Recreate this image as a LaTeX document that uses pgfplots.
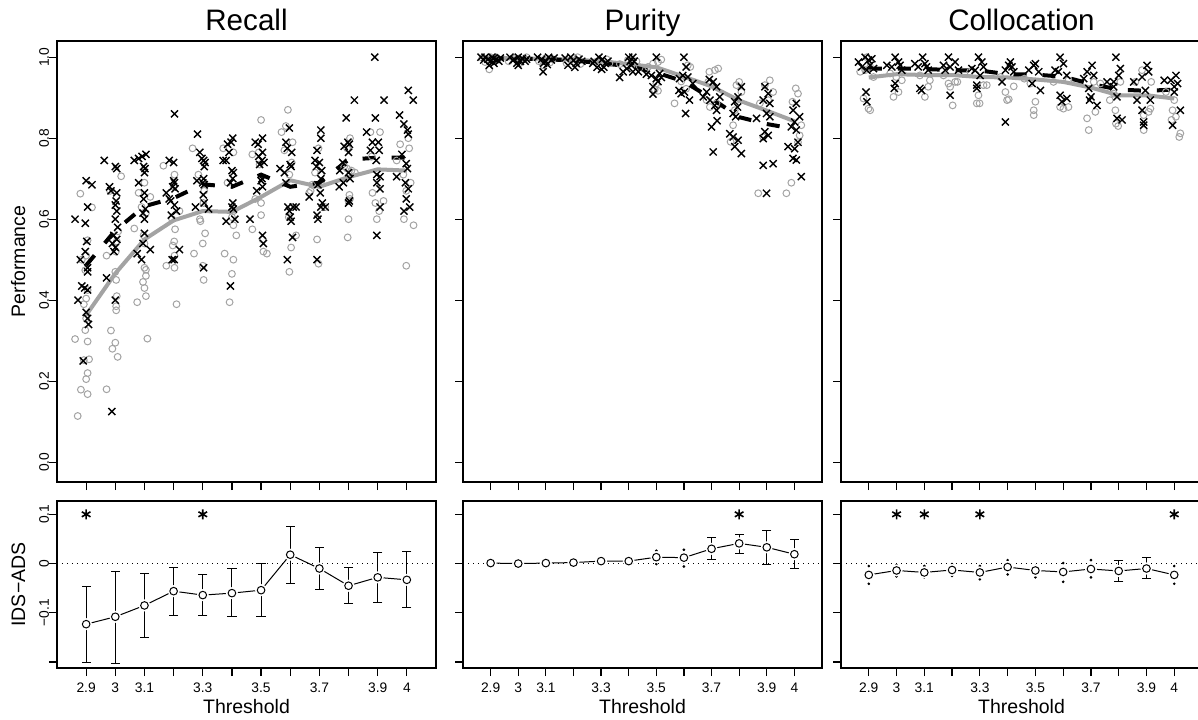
\documentclass[border=0pt]{standalone}
\usepackage{fontspec}
\setmainfont{Liberation Sans}
\usepackage{pgfplots}
\pgfplotsset{compat=1.18}
\definecolor{idsgray}{gray}{0.64}

\pgfplotsset{
  panel/.style={scale only axis, xmin=2.8, xmax=4.1,
    axis line style={line width=0.6pt},
    tick style={black, line width=0.6pt},
    tick align=outside, major tick length=4pt,
    xtick pos=left, ytick pos=left,
    xtick={2.9,3.0,3.1,3.2,3.3,3.4,3.5,3.6,3.7,3.8,3.9,4.0},
    ticklabel style={font=\fontsize{6.9}{8}\selectfont},
    yticklabel style={rotate=90, anchor=base},
  },
  top/.style={panel, height=220.5pt, ymin=-0.049, ymax=1.04,
    ytick={0,0.2,0.4,0.6,0.8,1}, xticklabels={}},
  bot/.style={panel, height=83.5pt, ymin=-0.212, ymax=0.127,
    ytick={-0.2,-0.1,0,0.1},
    xticklabels={2.9,3,3.1,,3.3,,3.5,,3.7,,3.9,4}},
  ids/.style={only marks, mark=o, mark size=1.7pt, idsgray, mark options={line width=0.5pt}},
  ads/.style={only marks, mark=x, mark size=2.5pt, black, mark options={line width=0.7pt}},
  idsline/.style={idsgray, line width=2pt, mark=none},
  adsline/.style={black, line width=2pt, mark=none, dash pattern=on 6.5pt off 8pt},
  zero/.style={black, line width=0.5pt, mark=none, dash pattern=on 0.5pt off 2pt},
  bars/.style={draw=none, mark=none, forget plot,
    error bars/.cd, y dir=both, y explicit, error mark=none,
    error bar style={draw=black, line width=0.5pt, solid}},
  caps/.style={only marks, mark=-, mark size=2.3pt, black, forget plot,
    mark options={line width=0.5pt}},
  enddots/.style={only marks, mark=*, mark size=0.45pt, black, forget plot},
  gap/.style={only marks, mark=*, mark size=2.8pt, white, forget plot},
  diffline/.style={black, line width=0.5pt, mark=o, mark size=1.9pt,
    mark options={fill=white, solid, line width=0.5pt}},
  star/.style={only marks, mark=asterisk, mark size=2.5pt, black, mark options={line width=0.8pt}},
}

\begin{document}
\begin{tikzpicture}
\useasboundingbox (0,0) rectangle (599pt,359.5pt);

% ---------- Recall ----------
\begin{axis}[top, width=189.5pt, at={(28.5pt,118.5pt)}, anchor=south west,
  yticklabels={0.0,0.2,0.4,0.6,0.8,1.0}]
\addplot[ids] coordinates {
 (2.88,0.663) (2.92,0.629) (2.862,0.304) (2.871,0.114) (2.882,0.179) (2.905,0.168) (2.9,0.205)
 (2.905,0.22) (2.91,0.254) (2.892,0.252) (2.905,0.298) (2.897,0.326) (2.9,0.355) (2.892,0.39)
 (2.9,0.404) (2.905,0.425) (2.897,0.474) (2.905,0.548) (2.9,0.51) (2.885,0.50)
 (3.02,0.706) (2.982,0.67) (2.97,0.51) (3.0,0.47) (3.003,0.45) (3.005,0.41) (3.003,0.385)
 (3.003,0.375) (2.985,0.325) (3.0,0.295) (2.99,0.28) (3.008,0.26) (2.97,0.18) (3.005,0.545)
 (3.002,0.52) (3.01,0.57)
 (3.1,0.69) (3.08,0.665) (3.12,0.655) (3.065,0.577) (3.097,0.56) (3.1,0.54) (3.1,0.48)
 (3.105,0.475) (3.105,0.46) (3.095,0.445) (3.1,0.43) (3.105,0.41) (3.075,0.395) (3.11,0.305)
 (3.09,0.63) (3.105,0.615)
 (3.165,0.732) (3.203,0.71) (3.195,0.60) (3.205,0.575) (3.202,0.545) (3.197,0.535) (3.203,0.51)
 (3.175,0.485) (3.203,0.48) (3.21,0.39) (3.22,0.62) (3.2,0.68)
 (3.265,0.775) (3.285,0.71) (3.305,0.67) (3.302,0.64) (3.29,0.60) (3.292,0.595) (3.308,0.565)
 (3.3,0.54) (3.27,0.515) (3.3,0.485) (3.303,0.45)
 (3.37,0.775) (3.405,0.765) (3.385,0.69) (3.405,0.62) (3.4,0.605) (3.405,0.585) (3.415,0.56)
 (3.375,0.515) (3.405,0.50) (3.4,0.465) (3.392,0.395)
 (3.5,0.845) (3.492,0.765) (3.47,0.76) (3.495,0.735) (3.48,0.65) (3.5,0.64) (3.5,0.61)
 (3.47,0.575) (3.505,0.55) (3.508,0.52) (3.52,0.515)
 (3.592,0.87) (3.585,0.83) (3.57,0.815) (3.608,0.79) (3.58,0.77) (3.605,0.74) (3.597,0.71)
 (3.595,0.605) (3.62,0.56) (3.603,0.53) (3.597,0.47)
 (3.697,0.775) (3.685,0.715) (3.705,0.71) (3.675,0.685) (3.665,0.665) (3.67,0.67) (3.692,0.55)
 (3.697,0.49) (3.72,0.63)
 (3.805,0.80) (3.795,0.775) (3.785,0.73) (3.795,0.725) (3.81,0.72) (3.803,0.66) (3.805,0.65)
 (3.8,0.645) (3.8,0.60) (3.797,0.555) (3.822,0.715)
 (3.875,0.815) (3.908,0.815) (3.88,0.755) (3.882,0.665) (3.892,0.64) (3.92,0.645) (3.905,0.62)
 (3.897,0.60)
 (4.005,0.80) (3.977,0.785) (4.008,0.775) (3.965,0.745) (3.988,0.71) (4.013,0.69) (3.998,0.67)
 (3.99,0.60) (4.023,0.585) (3.998,0.485)
};
\addplot[ads] coordinates {
 (2.862,0.60) (2.9,0.695) (2.92,0.685) (2.905,0.63) (2.897,0.59) (2.902,0.545) (2.897,0.52)
 (2.88,0.50) (2.905,0.48) (2.905,0.47) (2.885,0.435) (2.905,0.425) (2.895,0.43) (2.872,0.40)
 (2.9,0.37) (2.905,0.355) (2.908,0.34) (2.89,0.25)
 (2.962,0.745) (3.0,0.73) (3.005,0.725) (2.98,0.68) (2.985,0.67) (3.005,0.665) (3.003,0.645)
 (3.0,0.635) (3.005,0.62) (3.0,0.60) (3.008,0.58) (2.995,0.56) (3.005,0.55) (2.99,0.54)
 (3.0,0.53) (2.995,0.52) (2.97,0.455) (3.0,0.40) (2.988,0.125)
 (3.065,0.745) (3.08,0.75) (3.092,0.755) (3.105,0.76) (3.097,0.73) (3.102,0.725) (3.1,0.715)
 (3.08,0.69) (3.1,0.665) (3.097,0.65) (3.103,0.625) (3.095,0.615) (3.1,0.60) (3.1,0.565)
 (3.095,0.54) (3.075,0.515) (3.09,0.50) (3.12,0.525)
 (3.203,0.86) (3.185,0.745) (3.2,0.74) (3.2,0.695) (3.203,0.69) (3.197,0.68) (3.205,0.675)
 (3.175,0.665) (3.185,0.65) (3.19,0.645) (3.203,0.635) (3.192,0.61) (3.195,0.50) (3.202,0.50)
 (3.22,0.525) (3.21,0.62)
 (3.282,0.81) (3.29,0.765) (3.297,0.75) (3.303,0.745) (3.308,0.74) (3.305,0.73) (3.303,0.70)
 (3.28,0.695) (3.3,0.69) (3.305,0.685) (3.302,0.66) (3.305,0.64) (3.275,0.63) (3.32,0.625)
 (3.303,0.48)
 (3.403,0.80) (3.397,0.79) (3.385,0.785) (3.39,0.765) (3.37,0.745) (3.38,0.745) (3.4,0.72)
 (3.405,0.715) (3.403,0.70) (3.395,0.69) (3.403,0.64) (3.4,0.63) (3.405,0.625) (3.41,0.60)
 (3.38,0.595) (3.395,0.435)
 (3.505,0.80) (3.48,0.79) (3.49,0.785) (3.505,0.765) (3.492,0.755) (3.503,0.745) (3.51,0.74)
 (3.495,0.735) (3.503,0.70) (3.5,0.695) (3.505,0.68) (3.485,0.67) (3.462,0.60) (3.505,0.56)
 (3.508,0.54)
 (3.597,0.825) (3.585,0.79) (3.59,0.775) (3.605,0.765) (3.6,0.735) (3.603,0.73) (3.565,0.725)
 (3.58,0.715) (3.585,0.69) (3.592,0.63) (3.61,0.63) (3.62,0.63) (3.597,0.62) (3.6,0.605)
 (3.603,0.595) (3.608,0.555) (3.59,0.50)
 (3.705,0.82) (3.705,0.80) (3.692,0.77) (3.685,0.745) (3.7,0.74) (3.69,0.73) (3.708,0.72)
 (3.705,0.70) (3.695,0.685) (3.703,0.665) (3.71,0.64) (3.705,0.63) (3.72,0.63) (3.692,0.61)
 (3.695,0.60) (3.665,0.655) (3.692,0.50)
 (3.792,0.85) (3.82,0.894) (3.798,0.79) (3.803,0.785) (3.785,0.78) (3.8,0.765) (3.78,0.74)
 (3.77,0.72) (3.8,0.715) (3.782,0.69) (3.768,0.68) (3.803,0.645) (3.8,0.64) (3.805,0.70)
 (3.89,1.0) (3.922,0.894) (3.892,0.85) (3.862,0.815) (3.882,0.79) (3.875,0.77) (3.902,0.79)
 (3.905,0.77) (3.895,0.745) (3.897,0.71) (3.908,0.705) (3.897,0.69) (3.908,0.675) (3.908,0.63)
 (3.897,0.56)
 (4.005,0.918) (4.022,0.894) (3.975,0.857) (3.99,0.835) (4.002,0.82) (4.005,0.81) (3.983,0.76)
 (3.998,0.737) (4.002,0.725) (3.965,0.705) (3.995,0.69) (4.005,0.675) (3.998,0.65) (3.99,0.62)
 (4.01,0.63)
};
\addplot[idsline] coordinates {(2.9,0.363) (3.0,0.466) (3.1,0.55) (3.2,0.597) (3.3,0.62) (3.4,0.618)
 (3.5,0.655) (3.6,0.696) (3.7,0.68) (3.8,0.704) (3.9,0.723) (4.0,0.72)};
\addplot[adsline] coordinates {(2.9,0.486) (3.0,0.572) (3.1,0.632) (3.2,0.652) (3.3,0.686) (3.4,0.68)
 (3.5,0.71) (3.6,0.68) (3.7,0.69) (3.8,0.747) (3.9,0.752) (4.0,0.752)};
\end{axis}

% ---------- Purity ----------
\begin{axis}[top, width=179.5pt, at={(231.5pt,118.5pt)}, anchor=south west, yticklabels={}]
\addplot[ids] coordinates {
 (2.87,0.998) (2.885,0.995) (2.9,1.0) (2.91,0.99) (2.92,1.0) (2.895,0.97) (2.925,0.993) (2.88,0.988)
 (2.965,0.99) (2.99,0.998) (3.005,0.985) (3.02,0.995) (3.03,1.0)
 (3.075,0.99) (3.1,0.998) (3.115,0.987) (3.125,0.995) (3.09,0.98)
 (3.175,0.985) (3.2,0.99) (3.215,1.0) (3.225,0.983) (3.19,0.993)
 (3.28,0.988) (3.3,0.99) (3.32,0.995) (3.33,0.985)
 (3.368,0.983) (3.397,0.993) (3.428,0.99) (3.44,0.975) (3.41,0.985)
 (3.47,0.976) (3.488,0.984) (3.506,0.988) (3.518,0.994) (3.494,0.92) (3.506,0.917) (3.5,0.935)
 (3.614,0.98) (3.623,0.976) (3.566,0.886) (3.608,0.922) (3.59,0.94)
 (3.692,0.964) (3.712,0.968) (3.724,0.972) (3.688,0.939) (3.682,0.894) (3.694,0.877) (3.718,0.886)
 (3.8,0.939) (3.79,0.931) (3.808,0.914) (3.784,0.869) (3.778,0.832) (3.769,0.791) (3.79,0.894)
 (3.911,0.943) (3.893,0.931) (3.923,0.914) (3.905,0.894) (3.875,0.886) (3.887,0.803) (3.869,0.664)
 (4.005,0.923) (4.013,0.91) (3.993,0.89) (4.025,0.832) (4.019,0.807) (4.013,0.79) (3.989,0.69) (3.971,0.664)
};
\addplot[ads] coordinates {
 (2.865,1.0) (2.88,1.0) (2.89,0.995) (2.9,0.99) (2.905,1.0) (2.912,0.985) (2.92,0.995) (2.93,0.99)
 (2.895,0.98) (2.91,0.997) (2.935,0.998) (2.875,0.993)
 (2.97,1.0) (2.985,0.995) (3.0,1.0) (3.008,0.99) (3.015,0.997) (3.025,0.99) (2.995,0.985) (3.03,0.995)
 (2.98,0.992) (3.0,0.98)
 (3.07,1.0) (3.085,0.995) (3.1,0.99) (3.11,1.0) (3.12,0.993) (3.092,0.985) (3.13,0.998) (3.09,0.964) (3.105,0.982)
 (3.17,0.998) (3.19,1.0) (3.2,0.992) (3.21,0.985) (3.22,0.995) (3.18,0.98) (3.23,0.99) (3.205,0.975)
 (3.275,0.99) (3.292,1.0) (3.305,0.995) (3.315,0.985) (3.325,0.99) (3.285,0.975) (3.302,0.97) (3.31,0.975) (3.27,0.985)
 (3.367,0.95) (3.38,0.964) (3.4,1.0) (3.415,1.0) (3.41,0.98) (3.393,0.972) (3.415,0.964) (3.435,0.964)
 (3.42,0.99) (3.405,0.99)
 (3.5,1.0) (3.464,0.958) (3.482,0.955) (3.5,0.947) (3.512,0.96) (3.488,0.927) (3.488,0.909) (3.506,0.94) (3.518,0.95)
 (3.6,1.0) (3.608,0.976) (3.596,0.955) (3.584,0.947) (3.614,0.951) (3.582,0.918) (3.602,0.914) (3.62,0.894)
 (3.606,0.861) (3.59,0.91) (3.632,0.935)
 (3.692,0.945) (3.706,0.939) (3.718,0.927) (3.67,0.902) (3.694,0.894) (3.712,0.881) (3.718,0.869) (3.7,0.828)
 (3.72,0.843) (3.706,0.766) (3.682,0.914) (3.73,0.902)
 (3.808,0.927) (3.796,0.902) (3.784,0.89) (3.794,0.877) (3.778,0.861) (3.787,0.853) (3.766,0.811) (3.778,0.803)
 (3.796,0.795) (3.784,0.779) (3.808,0.762)
 (3.893,0.927) (3.905,0.91) (3.887,0.894) (3.911,0.886) (3.899,0.861) (3.893,0.816) (3.905,0.807) (3.887,0.799)
 (3.911,0.853) (3.887,0.733) (3.923,0.737) (3.899,0.664) (3.863,0.849)
 (4.007,0.886) (3.995,0.869) (4.019,0.853) (4.001,0.84) (3.989,0.828) (4.007,0.82) (3.977,0.779) (4.001,0.774)
 (3.995,0.75) (4.007,0.746) (4.025,0.705) (4.013,0.79)
};
\addplot[idsline] coordinates {(2.9,0.998) (3.0,0.997) (3.1,0.996) (3.2,0.994) (3.3,0.99) (3.4,0.983)
 (3.5,0.975) (3.6,0.952) (3.7,0.928) (3.8,0.893) (3.9,0.868) (4.0,0.842)};
\addplot[adsline] coordinates {(2.9,0.997) (3.0,0.997) (3.1,0.995) (3.2,0.992) (3.3,0.985) (3.4,0.978)
 (3.5,0.962) (3.6,0.94) (3.7,0.898) (3.8,0.852) (3.9,0.835) (4.0,0.823)};
\end{axis}

% ---------- Collocation ----------
\begin{axis}[top, width=180.5pt, at={(420.5pt,118.5pt)}, anchor=south west, yticklabels={}]
\addplot[ids] coordinates {
 (2.869,0.964) (2.887,0.968) (2.905,0.976) (2.917,0.951) (2.881,0.898) (2.899,0.873) (2.905,0.869) (2.893,1.0)
 (2.989,0.902) (3.007,0.914) (3.019,0.943) (2.977,0.96) (2.999,0.951)
 (3.102,0.902) (3.114,0.927) (3.12,0.943) (3.084,0.955)
 (3.193,0.927) (3.187,0.935) (3.202,0.881) (3.211,0.939) (3.219,0.939) (3.169,0.955)
 (3.295,0.906) (3.289,0.886) (3.299,0.886) (3.313,0.931) (3.325,0.931) (3.265,0.964)
 (3.392,0.914) (3.398,0.894) (3.404,0.896) (3.422,0.928) (3.374,0.951)
 (3.5,0.89) (3.494,0.869) (3.494,0.857) (3.46,0.947) (3.482,0.935)
 (3.589,0.877) (3.601,0.873) (3.619,0.877) (3.619,0.943) (3.565,0.939)
 (3.686,0.849) (3.692,0.82) (3.716,0.865) (3.71,0.939) (3.734,0.935)
 (3.788,0.869) (3.798,0.83) (3.79,0.836) (3.768,0.894) (3.806,0.939) (3.782,0.91)
 (3.884,0.968) (3.917,0.939) (3.914,0.873) (3.89,0.82) (3.908,0.865) (3.86,0.939) (3.89,0.857)
 (4.0,0.894) (3.994,0.869) (4.006,0.853) (3.99,0.845) (4.022,0.812) (4.018,0.803) (3.97,0.914)
};
\addplot[ads] coordinates {
 (2.863,0.988) (2.875,0.976) (2.887,1.0) (2.899,0.993) (2.905,0.98) (2.917,0.972) (2.893,0.968) (2.911,0.996)
 (2.89,0.914) (2.893,0.89)
 (2.995,1.0) (2.983,0.976) (3.007,0.988) (3.019,0.968) (2.995,0.935) (2.992,0.923) (3.013,0.98) (2.965,0.98)
 (3.094,1.0) (3.078,0.976) (3.102,0.984) (3.114,0.968) (3.084,0.923) (3.09,0.918) (3.108,0.976) (3.066,0.984)
 (3.187,1.0) (3.175,0.968) (3.193,0.976) (3.211,0.988) (3.223,0.968) (3.193,0.906) (3.169,0.98)
 (3.295,1.0) (3.307,0.988) (3.283,0.968) (3.313,0.976) (3.289,0.931) (3.289,0.923) (3.301,0.955) (3.271,0.972)
 (3.404,0.98) (3.392,0.968) (3.416,0.976) (3.38,0.939) (3.392,0.84) (3.41,0.988) (3.422,0.964)
 (3.5,0.984) (3.476,0.968) (3.512,0.964) (3.488,0.935) (3.518,0.918) (3.494,0.98)
 (3.589,1.0) (3.601,0.984) (3.583,0.964) (3.613,0.955) (3.589,0.906) (3.613,0.898) (3.595,0.89) (3.571,0.968)
 (3.704,0.98) (3.686,0.964) (3.71,0.955) (3.692,0.923) (3.7,0.902) (3.695,0.894) (3.722,0.881) (3.674,0.947)
 (3.79,1.0) (3.806,0.972) (3.8,0.955) (3.782,0.927) (3.794,0.902) (3.794,0.849) (3.812,0.845) (3.782,0.939) (3.758,0.939)
 (3.902,0.98) (3.908,0.964) (3.884,0.951) (3.896,0.918) (3.884,0.869) (3.89,0.84) (3.89,0.832) (3.914,0.894)
 (3.866,0.894) (3.854,0.939)
 (4.006,0.955) (3.988,0.943) (4.012,0.935) (4.0,0.914) (4.022,0.869) (3.994,0.832) (3.964,0.943) (4.0,0.927)
};
\addplot[idsline] coordinates {(2.9,0.95) (3.0,0.958) (3.1,0.956) (3.2,0.956) (3.3,0.951) (3.4,0.95)
 (3.5,0.945) (3.6,0.939) (3.7,0.925) (3.8,0.906) (3.9,0.906) (4.0,0.898)};
\addplot[adsline] coordinates {(2.9,0.972) (3.0,0.972) (3.1,0.971) (3.2,0.968) (3.3,0.967) (3.4,0.958)
 (3.5,0.957) (3.6,0.952) (3.7,0.934) (3.8,0.92) (3.9,0.917) (4.0,0.92)};
\end{axis}

% ---------- bottom: Recall ----------
\begin{axis}[bot, width=189.5pt, at={(28.5pt,25.5pt)}, anchor=south west,
  yticklabels={,−0.1,0,0.1}]
\addplot[zero] coordinates {(2.8,0) (4.1,0)};
\addplot[bars] coordinates {
 (2.9,-0.123) += (0,0.076) -= (0,0.077)
 (3.0,-0.108) += (0,0.091) -= (0,0.094)
 (3.1,-0.085) += (0,0.064) -= (0,0.065)
 (3.2,-0.056) += (0,0.049) -= (0,0.050)
 (3.3,-0.064) += (0,0.041) -= (0,0.042)
 (3.4,-0.060) += (0,0.049) -= (0,0.048)
 (3.5,-0.054) += (0,0.054) -= (0,0.054)
 (3.6,0.018) += (0,0.057) -= (0,0.058)
 (3.7,-0.010) += (0,0.043) -= (0,0.043)
 (3.8,-0.045) += (0,0.038) -= (0,0.037)
 (3.9,-0.028) += (0,0.051) -= (0,0.051)
 (4.0,-0.033) += (0,0.058) -= (0,0.057)
};
\addplot[caps] coordinates {
 (2.9,-0.047) (2.9,-0.200) (3.0,-0.017) (3.0,-0.202) (3.1,-0.021) (3.1,-0.150)
 (3.2,-0.007) (3.2,-0.106) (3.3,-0.023) (3.3,-0.106) (3.4,-0.011) (3.4,-0.108)
 (3.5,0.000) (3.5,-0.108) (3.6,0.075) (3.6,-0.040) (3.7,0.033) (3.7,-0.053)
 (3.8,-0.007) (3.8,-0.082) (3.9,0.023) (3.9,-0.079) (4.0,0.025) (4.0,-0.090)
};
\addplot[gap] coordinates {(2.9,-0.123) (3.0,-0.108) (3.1,-0.085) (3.2,-0.056) (3.3,-0.064) (3.4,-0.060)
 (3.5,-0.054) (3.6,0.018) (3.7,-0.010) (3.8,-0.045) (3.9,-0.028) (4.0,-0.033)};
\addplot[diffline] coordinates {(2.9,-0.123) (3.0,-0.108) (3.1,-0.085) (3.2,-0.056) (3.3,-0.064) (3.4,-0.060)
 (3.5,-0.054) (3.6,0.018) (3.7,-0.010) (3.8,-0.045) (3.9,-0.028) (4.0,-0.033)};
\addplot[star] coordinates {(2.9,0.1) (3.3,0.1)};
\end{axis}

% ---------- bottom: Purity ----------
\begin{axis}[bot, width=179.5pt, at={(231.5pt,25.5pt)}, anchor=south west, yticklabels={}]
\addplot[zero] coordinates {(2.8,0) (4.1,0)};
\addplot[bars] coordinates {
 (3.7,0.030) += (0,0.023) -= (0,0.021)
 (3.8,0.041) += (0,0.019) -= (0,0.020)
 (3.9,0.033) += (0,0.035) -= (0,0.034)
 (4.0,0.019) += (0,0.029) -= (0,0.030)
};
\addplot[caps] coordinates {(3.7,0.053) (3.7,0.009) (3.8,0.060) (3.8,0.021)
 (3.9,0.068) (3.9,-0.001) (4.0,0.048) (4.0,-0.011)};
\addplot[enddots] coordinates {(3.5,0.026) (3.5,-0.001) (3.6,0.028) (3.6,-0.006)};
\addplot[gap] coordinates {(2.9,0.001) (3.0,0.0) (3.1,0.001) (3.2,0.002) (3.3,0.005) (3.4,0.005)
 (3.5,0.013) (3.6,0.012) (3.7,0.030) (3.8,0.041) (3.9,0.033) (4.0,0.019)};
\addplot[diffline] coordinates {(2.9,0.001) (3.0,0.0) (3.1,0.001) (3.2,0.002) (3.3,0.005) (3.4,0.005)
 (3.5,0.013) (3.6,0.012) (3.7,0.030) (3.8,0.041) (3.9,0.033) (4.0,0.019)};
\addplot[star] coordinates {(3.8,0.1)};
\end{axis}

% ---------- bottom: Collocation ----------
\begin{axis}[bot, width=180.5pt, at={(420.5pt,25.5pt)}, anchor=south west, yticklabels={}]
\addplot[zero] coordinates {(2.8,0) (4.1,0)};
\addplot[bars] coordinates {
 (3.8,-0.015) += (0,0.021) -= (0,0.022)
 (3.9,-0.010) += (0,0.022) -= (0,0.021)
};
\addplot[caps] coordinates {(3.8,0.006) (3.8,-0.037) (3.9,0.012) (3.9,-0.031)};
\addplot[enddots] coordinates {
 (2.9,-0.005) (2.9,-0.041) (3.0,-0.003) (3.0,-0.026) (3.1,-0.005) (3.1,-0.028)
 (3.2,-0.001) (3.2,-0.025) (3.3,-0.005) (3.3,-0.032) (3.4,0.007) (3.4,-0.022)
 (3.5,-0.005) (3.5,-0.028) (3.6,0.001) (3.6,-0.037) (3.7,0.007) (3.7,-0.028)
 (4.0,-0.005) (4.0,-0.041)
};
\addplot[gap] coordinates {(2.9,-0.023) (3.0,-0.014) (3.1,-0.018) (3.2,-0.013) (3.3,-0.018) (3.4,-0.007)
 (3.5,-0.014) (3.6,-0.017) (3.7,-0.011) (3.8,-0.015) (3.9,-0.010) (4.0,-0.023)};
\addplot[diffline] coordinates {(2.9,-0.023) (3.0,-0.014) (3.1,-0.018) (3.2,-0.013) (3.3,-0.018) (3.4,-0.007)
 (3.5,-0.014) (3.6,-0.017) (3.7,-0.011) (3.8,-0.015) (3.9,-0.010) (4.0,-0.023)};
\addplot[star] coordinates {(3.0,0.1) (3.1,0.1) (3.3,0.1) (4.0,0.1)};
\end{axis}

% ---------- titles and axis labels ----------
\begin{scope}[font=\fontsize{14.8}{17}\selectfont]
\node[anchor=base] at (123.25pt,344.25pt) {Recall};
\node[anchor=base] at (321.25pt,344.25pt) {Purity};
\node[anchor=base] at (510.75pt,344.25pt) {Collocation};
\end{scope}
\begin{scope}[font=\fontsize{9.75}{11}\selectfont]
\node[rotate=90, anchor=base] at (12.5pt,228.75pt) {Performance};
\node[rotate=90, anchor=base] at (12.5pt,67.25pt) {IDS−ADS};
\node[anchor=base] at (123.25pt,3pt) {Threshold};
\node[anchor=base] at (321.25pt,3pt) {Threshold};
\node[anchor=base] at (510.75pt,3pt) {Threshold};
\end{scope}
\end{tikzpicture}
\end{document}
